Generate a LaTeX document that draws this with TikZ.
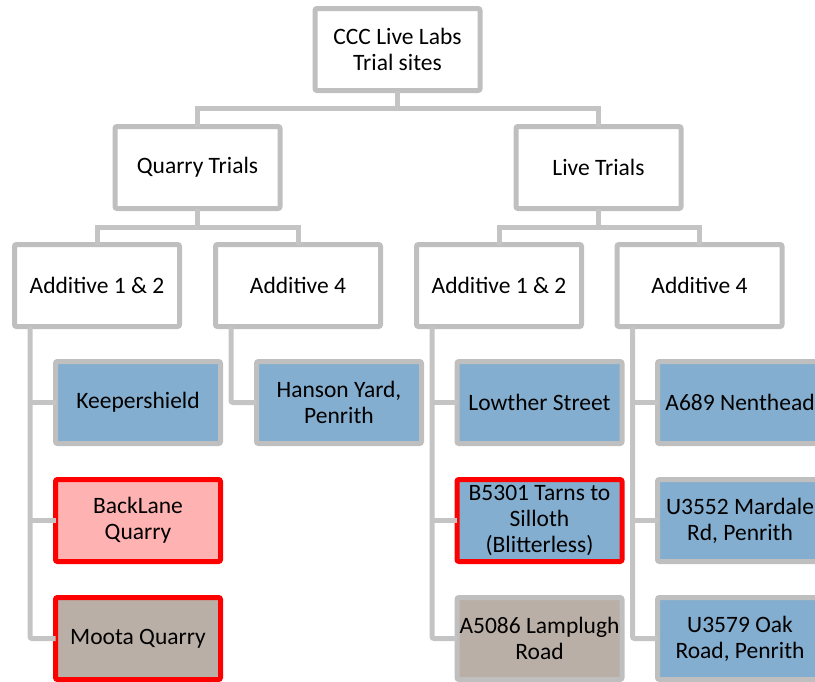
\documentclass[tikz,border=0pt]{standalone}
\usepackage{fontspec}
\setmainfont{Carlito}

\definecolor{rimgray}{RGB}{191,191,191}
\definecolor{linkgray}{RGB}{196,196,196}
\definecolor{siteblue}{RGB}{132,174,207}
\definecolor{sitepink}{RGB}{255,178,178}
\definecolor{sitestone}{RGB}{186,175,166}
\definecolor{rimred}{RGB}{255,0,0}

\tikzstyle{box} = [draw=rimgray,line width=5pt,rounded corners=2pt,fill=white,
  minimum width=165pt,minimum height=82pt,inner sep=0pt,outer sep=0pt,
  align=center,font=\fontsize{23.5}{26}\selectfont]
\tikzstyle{link} = [draw=linkgray,line width=5pt]

\begin{document}
\begin{tikzpicture}[x=1pt,y=-1pt]
      \useasboundingbox (0,0) rectangle (815,681);
      \clip (0,0) rectangle (815,681);
      %nodes
      \foreach \nodename/\x/\y/\fillc/\rimc/\txt in {
        root/397.5/49.5/white/rimgray/{CCC Live Labs\\Trial sites},
        quarry/197.5/167.5/white/rimgray/Quarry Trials,
        live/598.5/167.5/white/rimgray/Live Trials,
        addAq/97/285.5/white/rimgray/Additive 1 \& 2,
        addBq/298/285.5/white/rimgray/Additive 4,
        addAl/499/285.5/white/rimgray/Additive 1 \& 2,
        addBl/699.5/285.5/white/rimgray/Additive 4,
        keeper/138/402.5/siteblue/rimgray/Keepershield,
        backlane/138/520.5/sitepink/rimred/{BackLane\\Quarry},
        moota/138/638.5/sitestone/rimred/Moota Quarry,
        hanson/339/402.5/siteblue/rimgray/{Hanson Yard,\\Penrith},
        lowther/539.5/402.5/siteblue/rimgray/Lowther Street,
        tarns/539.5/520.5/siteblue/rimred/{B5301 Tarns to\\Silloth\\(Blitterless)},
        lamplugh/539.5/638.5/sitestone/rimgray/{A5086 Lamplugh\\Road},
        nenthead/740/402.5/siteblue/rimgray/A689 Nenthead,
        mardale/740/520.5/siteblue/rimgray/{U3552 Mardale\\Rd, Penrith},
        oak/740/638.5/siteblue/rimgray/{U3579 Oak\\Road, Penrith}}
      {
        \node[box, fill=\fillc, draw=\rimc] (\nodename) at (\x,\y) {\txt};
      };
      %trunk and forks
      \path (root.south) ++(0,17.5) coordinate (trunk);
      \path (quarry.south) ++(0,19) coordinate (qfork);
      \path (live.south) ++(0,19) coordinate (lfork);
      \draw[link] (root.south) -- (trunk);
      \draw[link] (quarry.north) |- (trunk) -| (live.north);
      \draw[link] (quarry.south) -- (qfork);
      \draw[link] (addAq.north) |- (qfork) -| (addBq.north);
      \draw[link] (live.south) -- (lfork);
      \draw[link] (addAl.north) |- (lfork) -| (addBl.north);
      %spines down to the sites
      \foreach \parent/\last in {addAq/moota, addBq/hanson, addAl/lamplugh, addBl/oak}
      {
        \coordinate (\parent-spine) at ([xshift=-67pt]\parent.south);
        \draw[link, rounded corners=2pt] (\parent-spine) |- (\last.west);
      };
      \foreach \parent/\leaf in {addAq/keeper, addAq/backlane, addAl/lowther, addAl/tarns,
        addBl/nenthead, addBl/mardale}
      {
        \draw[link] (\parent-spine |- \leaf.west) -- (\leaf.west);
      };
\end{tikzpicture}
\end{document}
